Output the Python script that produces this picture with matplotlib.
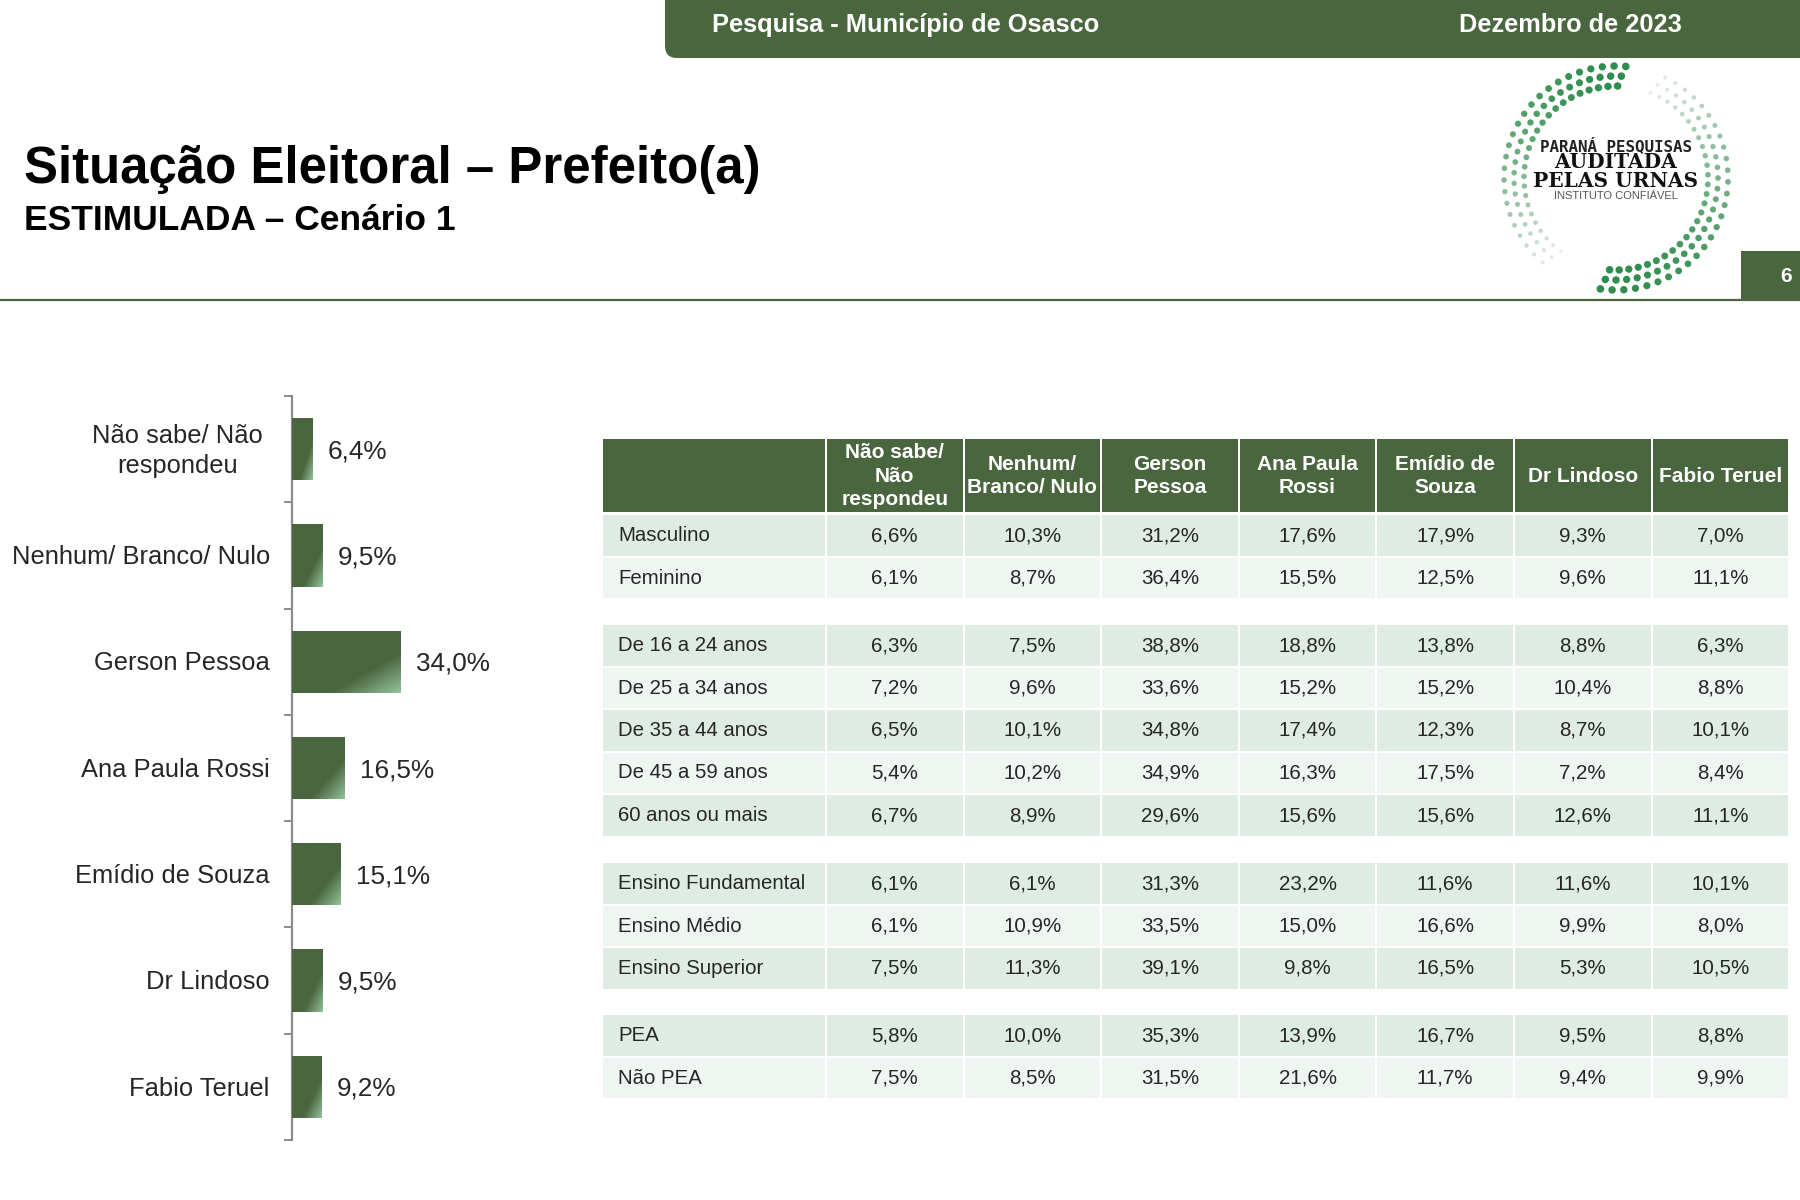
# Situação Eleitoral - slide with bars on the left and crosstab on the right
import numpy as np
import matplotlib.pyplot as plt
from matplotlib.colors import LinearSegmentedColormap
from matplotlib.patches import Rectangle, FancyBboxPatch

candidatos = ['Não sabe/ Não\nrespondeu', 'Nenhum/ Branco/ Nulo', 'Gerson Pessoa', 'Ana Paula Rossi',
              'Emídio de Souza', 'Dr Lindoso', 'Fabio Teruel']
totais = [6.4, 9.5, 34.0, 16.5, 15.1, 9.5, 9.2]

colunas = ['Não sabe/\nNão\nrespondeu', 'Nenhum/\nBranco/ Nulo', 'Gerson\nPessoa', 'Ana Paula\nRossi',
           'Emídio de\nSouza', 'Dr Lindoso', 'Fabio Teruel']

sexo = ['Masculino', 'Feminino']
sexo_vals = [[6.6, 10.3, 31.2, 17.6, 17.9, 9.3, 7.0],
             [6.1, 8.7, 36.4, 15.5, 12.5, 9.6, 11.1]]
idade = ['De 16 a 24 anos', 'De 25 a 34 anos', 'De 35 a 44 anos', 'De 45 a 59 anos', '60 anos ou mais']
idade_vals = [[6.3, 7.5, 38.8, 18.8, 13.8, 8.8, 6.3],
              [7.2, 9.6, 33.6, 15.2, 15.2, 10.4, 8.8],
              [6.5, 10.1, 34.8, 17.4, 12.3, 8.7, 10.1],
              [5.4, 10.2, 34.9, 16.3, 17.5, 7.2, 8.4],
              [6.7, 8.9, 29.6, 15.6, 15.6, 12.6, 11.1]]
ensino = ['Ensino Fundamental', 'Ensino Médio', 'Ensino Superior']
ensino_vals = [[6.1, 6.1, 31.3, 23.2, 11.6, 11.6, 10.1],
               [6.1, 10.9, 33.5, 15.0, 16.6, 9.9, 8.0],
               [7.5, 11.3, 39.1, 9.8, 16.5, 5.3, 10.5]]
pea = ['PEA', 'Não PEA']
pea_vals = [[5.8, 10.0, 35.3, 13.9, 16.7, 9.5, 8.8],
            [7.5, 8.5, 31.5, 21.6, 11.7, 9.4, 9.9]]

VERDE = '#4a663f'
ESCURO = '#dfece4'
CLARO = '#eff6f2'
TEXTO = '#262626'

plt.rcParams['font.family'] = ['Liberation Sans', 'DejaVu Sans']


def pct(v):
    return f'{v:.1f}'.replace('.', ',') + '%'


fig = plt.figure(figsize=(18, 12), dpi=100)

# whole slide in pixels, for header, logo and table
bg = fig.add_axes([0, 0, 1, 1])
bg.set_xlim(0, 1800)
bg.set_ylim(1200, 0)
bg.axis('off')

bg.add_patch(FancyBboxPatch((665, -40), 1300, 98, boxstyle='round,pad=0,rounding_size=12',
                            fc=VERDE, ec='none'))
bg.text(712, 25, 'Pesquisa - Município de Osasco', color='white', fontsize=18.3, fontweight='bold',
        va='center')
bg.text(1459, 25, 'Dezembro de 2023', color='white', fontsize=18.3, fontweight='bold', va='center')

bg.text(24, 169.5, 'Situação Eleitoral – Prefeito(a)', color='black', fontsize=36.7, fontweight='bold',
        va='center')
bg.text(24, 221, 'ESTIMULADA – Cenário 1', color='black', fontsize=25.5, fontweight='bold', va='center')

bg.plot([0, 1800], [300, 300], color=VERDE, lw=1.6)
bg.add_patch(Rectangle((1741, 251), 59, 49, fc=VERDE, ec='none'))
bg.text(1786, 277, '6', color='white', fontsize=15, fontweight='bold', ha='center', va='center')

# logo: two dotted arcs fading out
cx, cy = 1616, 178
for inicio, fim in [(85, 235), (262, 430)]:
    for raio, passo in [(112, 0), (102, 0.5), (92, 1)]:
        angulos = np.arange(inicio + passo * 4, fim, 6)
        f = (angulos - inicio) / (fim - inicio)
        cores = [(0.18 + 0.76 * t ** 1.8, 0.55 + 0.39 * t ** 1.8, 0.30 + 0.64 * t ** 1.8) for t in f]
        bg.scatter(cx + raio * np.cos(np.radians(angulos)), cy - raio * np.sin(np.radians(angulos)),
                   s=30 * (1 - 0.75 * f), c=cores, linewidths=0)
bg.text(cx, 146, 'PARANÁ PESQUISAS', family='DejaVu Sans Mono', fontsize=11.4, fontweight='bold',
        ha='center', va='center', color='#222222')
bg.text(cx, 162, 'AUDITADA', family='DejaVu Serif', fontsize=14.5, fontweight='bold',
        ha='center', va='center', color='#111111')
bg.text(cx, 181, 'PELAS URNAS', family='DejaVu Serif', fontsize=14.5, fontweight='bold',
        ha='center', va='center', color='#111111')
bg.text(cx, 196, 'INSTITUTO CONFIÁVEL', fontsize=8, ha='center', va='center', color='#555555')

# table
x_tab = 603
w_first = 222
x_col = 827
w_col = 135.5
pitch_col = 137.6
bg.add_patch(Rectangle((x_tab, 439), w_first, 73, fc=VERDE, ec='none'))
for j, nome in enumerate(colunas):
    x = x_col + j * pitch_col
    bg.add_patch(Rectangle((x, 439), w_col, 73, fc=VERDE, ec='none'))
    bg.text(x + w_col / 2, 476, nome, color='white', fontsize=15, fontweight='bold', ha='center',
            va='center', linespacing=1.3)

grupos = [(sexo, sexo_vals, 515), (idade, idade_vals, 625), (ensino, ensino_vals, 863), (pea, pea_vals, 1015)]
for nomes, vals, y0 in grupos:
    for i, (nome, linha) in enumerate(zip(nomes, vals)):
        y = y0 + i * 42.5
        cor = ESCURO if i % 2 == 0 else CLARO
        bg.add_patch(Rectangle((x_tab, y), w_first, 40.5, fc=cor, ec='none'))
        bg.text(x_tab + 15, y + 20.5, nome, color=TEXTO, fontsize=14.65, ha='left', va='center')
        for j, v in enumerate(linha):
            x = x_col + j * pitch_col
            bg.add_patch(Rectangle((x, y), w_col, 40.5, fc=cor, ec='none'))
            bg.text(x + w_col / 2, y + 20.5, pct(v), color=TEXTO, fontsize=14.8, ha='center', va='center')

# bars
ax = fig.add_axes([292 / 1800, 1 - 1140 / 1200, 224 / 1800, 744 / 1200])
ax.patch.set_alpha(0)
pos = np.arange(len(totais))
barras = ax.barh(pos, totais, height=0.585, color=VERDE)

grad = LinearSegmentedColormap.from_list('g', [(0, VERDE), (0.68, VERDE), (1, '#93c29b')])
gx, gy = np.meshgrid(np.linspace(0, 1, 120), np.linspace(0, 1, 60))
for b in barras:
    # dark bar getting lighter toward the lower right corner
    im = ax.imshow(gx * 0.5 + gy * 0.5, cmap=grad, vmin=0, vmax=1, aspect='auto', origin='upper', zorder=3,
                   extent=[0, b.get_width(), b.get_y() + b.get_height(), b.get_y()])
    im.set_clip_path(b)
ax.set_xlim(0, 70)
ax.set_ylim(len(totais) - 0.5, -0.5)

for spine in ['top', 'right', 'bottom']:
    ax.spines[spine].set_visible(False)
ax.spines['left'].set_color('#8c8c8c')
ax.spines['left'].set_linewidth(1.6)
ax.set_xticks([])
ax.set_yticks(np.arange(len(totais) + 1) - 0.5)
ax.set_yticklabels([])
ax.tick_params(axis='y', length=6, width=1.4, color='#8c8c8c')

for i, (nome, v) in enumerate(zip(candidatos, totais)):
    dx = -21 if i == 0 else -16
    ax.annotate(nome, (0, i), xytext=(dx, -1.2), textcoords='offset points', ha='right', va='center',
                multialignment='center', fontsize=18.4, color=TEXTO, linespacing=1.32, annotation_clip=False)
    ax.annotate(pct(v), (v, i), xytext=(11, -1.5), textcoords='offset points', ha='left', va='center',
                fontsize=18.8, color=TEXTO)

fig.savefig('out.png', dpi=100, facecolor='white')
